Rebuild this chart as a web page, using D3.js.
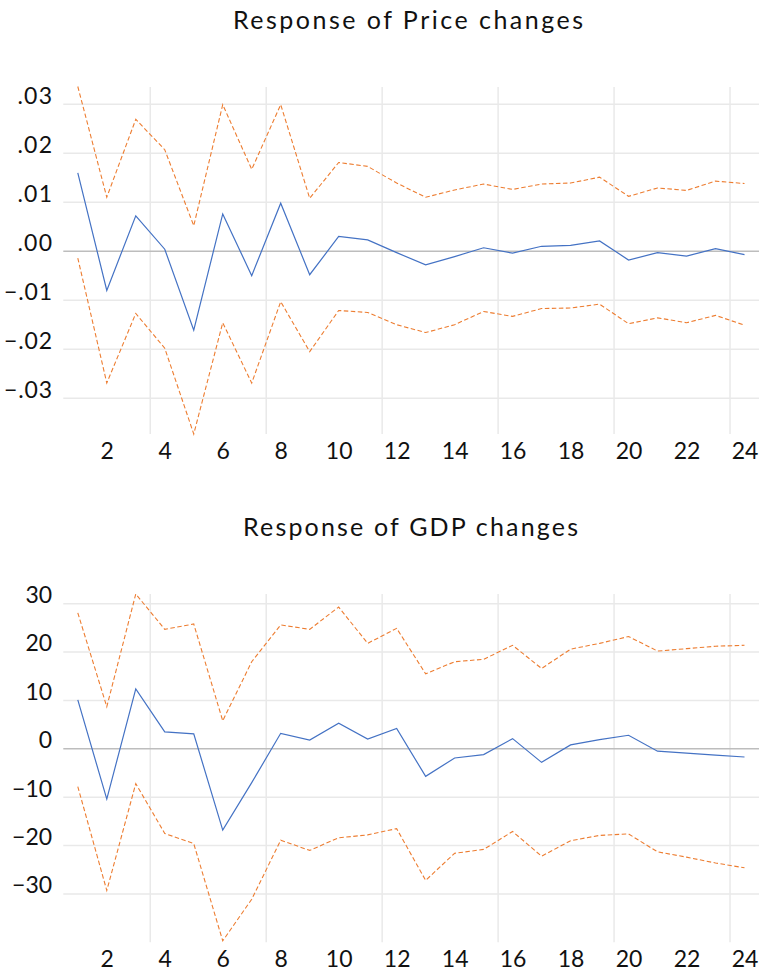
<!DOCTYPE html>
<html>
<head>
<meta charset="utf-8">
<script src="https://cdn.jsdelivr.net/npm/d3@7"></script>
<style>
  body { margin: 0; background: #fff; }
  text { font-family: Lato, "Open Sans", sans-serif; fill: #111; }
</style>
</head>
<body>
<div id="chart"></div>
<script>
const periods = d3.range(1, 25);
const xTicks = [2, 4, 6, 8, 10, 12, 14, 16, 18, 20, 22, 24];
const xGrid = [3.5, 7.5, 11.5, 15.5, 19.5, 23.5];

// Response of Price changes
const priceTicks = [-0.03, -0.02, -0.01, 0, 0.01, 0.02, 0.03];
const priceResp = [0.0160, -0.0080, 0.0072, 0.0004, -0.0161, 0.0076, -0.0050, 0.0098, -0.0048, 0.0030, 0.0023, -0.0003,
  -0.0028, -0.0011, 0.0007, -0.0004, 0.0010, 0.0012, 0.0021, -0.0018, -0.0003, -0.0010, 0.0005, -0.0007];
const priceUpper = [0.0336, 0.0110, 0.0269, 0.0207, 0.0052, 0.0299, 0.0167, 0.0299, 0.0108, 0.0181, 0.0173, 0.0139,
  0.0110, 0.0125, 0.0137, 0.0126, 0.0137, 0.0139, 0.0151, 0.0112, 0.0129, 0.0124, 0.0143, 0.0138];
const priceLower = [-0.0014, -0.0269, -0.0127, -0.0198, -0.0373, -0.0146, -0.0269, -0.0103, -0.0205, -0.0121, -0.0125, -0.0150,
  -0.0166, -0.0150, -0.0123, -0.0133, -0.0117, -0.0116, -0.0108, -0.0148, -0.0136, -0.0146, -0.0131, -0.0151];

// Response of GDP changes
const gdpTicks = [-30, -20, -10, 0, 10, 20, 30];
const gdpResp = [10.1, -10.4, 12.4, 3.5, 3.1, -16.8, -7.0, 3.2, 1.8, 5.3, 2.0, 4.2,
  -5.7, -1.9, -1.2, 2.1, -2.8, 0.8, 1.9, 2.8, -0.5, -0.9, -1.3, -1.7];
const gdpUpper = [28.1, 8.7, 32.0, 24.7, 25.8, 5.8, 18.0, 25.6, 24.7, 29.3, 21.8, 24.9,
  15.5, 18.0, 18.5, 21.4, 16.6, 20.6, 21.8, 23.2, 20.2, 20.7, 21.2, 21.4];
const gdpLower = [-7.8, -29.3, -7.2, -17.5, -19.6, -39.7, -31.1, -18.9, -21.0, -18.4, -17.8, -16.5,
  -27.2, -21.6, -20.8, -17.1, -22.2, -19.0, -17.9, -17.6, -21.3, -22.4, -23.6, -24.6];

const width = 759, height = 971;
const svg = d3.select("#chart").append("svg")
  .attr("width", width)
  .attr("height", height);

const fmtPrice = v => d3.format(".2f")(v).replace("0.", ".");
const fmtGdp = d3.format("d");

// rough width of a label in the original font (digits wider, dot/minus spaced out)
const labelWidth = s => s.split("").reduce((w, c) => w + (c === "." ? 8 : c === "-" ? 9 : 13.3), 0);

function drawPanel(opt) {
  const x = d3.scaleLinear().domain([0.5, 24.5]).range([63.3, 759]);
  const y = d3.scaleLinear().domain(opt.domain).range([opt.bottom, opt.top]);
  const g = svg.append("g");

  g.append("text")
    .attr("x", opt.titleX).attr("y", opt.top - 58.5)
    .attr("text-anchor", "middle")
    .attr("textLength", opt.titleLen).attr("lengthAdjust", "spacing")
    .style("font-size", "25px")
    .text(opt.title);

  // horizontal grid
  g.selectAll(".hgrid").data(opt.ticks.filter(d => d !== 0)).join("line")
    .attr("x1", x.range()[0]).attr("x2", x.range()[1])
    .attr("y1", d => y(d)).attr("y2", d => y(d))
    .attr("stroke", "#e9e9e9").attr("stroke-width", 1.5);

  // vertical grid
  g.selectAll(".vgrid").data(xGrid).join("line")
    .attr("x1", d => x(d)).attr("x2", d => x(d))
    .attr("y1", opt.top).attr("y2", opt.bottom)
    .attr("stroke", "#e9e9e9").attr("stroke-width", 1.5);

  // zero line
  g.append("line")
    .attr("x1", x.range()[0]).attr("x2", x.range()[1])
    .attr("y1", y(0)).attr("y2", y(0))
    .attr("stroke", "#bdbdbd").attr("stroke-width", 1.5);

  const yAxis = g.append("g")
    .attr("transform", "translate(52,0)")
    .call(d3.axisLeft(y).tickValues(opt.ticks).tickFormat(opt.fmt).tickSize(0).tickPadding(0));
  yAxis.select(".domain").remove();
  yAxis.selectAll("text")
    .attr("dy", "-0.05em")
    .attr("textLength", function() { return labelWidth(this.textContent); })
    .attr("lengthAdjust", "spacing")
    .style("font-size", "23px")
    .style("font-family", "Lato, sans-serif")
    .attr("fill", "#111");

  const xAxis = g.append("g")
    .attr("transform", `translate(0,${opt.bottom})`)
    .call(d3.axisBottom(x).tickValues(xTicks).tickFormat(d3.format("d")).tickSize(0));
  xAxis.select(".domain").remove();
  xAxis.selectAll("text")
    .attr("y", 25).attr("dy", "0")
    .style("font-size", "23px")
    .style("font-family", "Lato, sans-serif")
    .attr("fill", "#111");

  const line = d3.line().x((d, i) => x(periods[i])).y(d => y(d));

  g.append("path").datum(opt.upper)
    .attr("fill", "none").attr("stroke", "#ED7D31").attr("stroke-width", 1.1)
    .attr("stroke-dasharray", "4.5,2.5").attr("d", line);
  g.append("path").datum(opt.lower)
    .attr("fill", "none").attr("stroke", "#ED7D31").attr("stroke-width", 1.1)
    .attr("stroke-dasharray", "4.5,2.5").attr("d", line);
  g.append("path").datum(opt.resp)
    .attr("fill", "none").attr("stroke", "#4472C4").attr("stroke-width", 1.2)
    .attr("d", line);
}

drawPanel({
  title: "Response of Price changes", titleX: 408, titleLen: 350,
  top: 87, bottom: 434, domain: [-0.0373, 0.0335],
  ticks: priceTicks, fmt: fmtPrice,
  resp: priceResp, upper: priceUpper, lower: priceLower
});

drawPanel({
  title: "Response of GDP changes", titleX: 410.5, titleLen: 335,
  top: 594, bottom: 942.3, domain: [-40, 32],
  ticks: gdpTicks, fmt: fmtGdp,
  resp: gdpResp, upper: gdpUpper, lower: gdpLower
});
</script>
</body>
</html>
